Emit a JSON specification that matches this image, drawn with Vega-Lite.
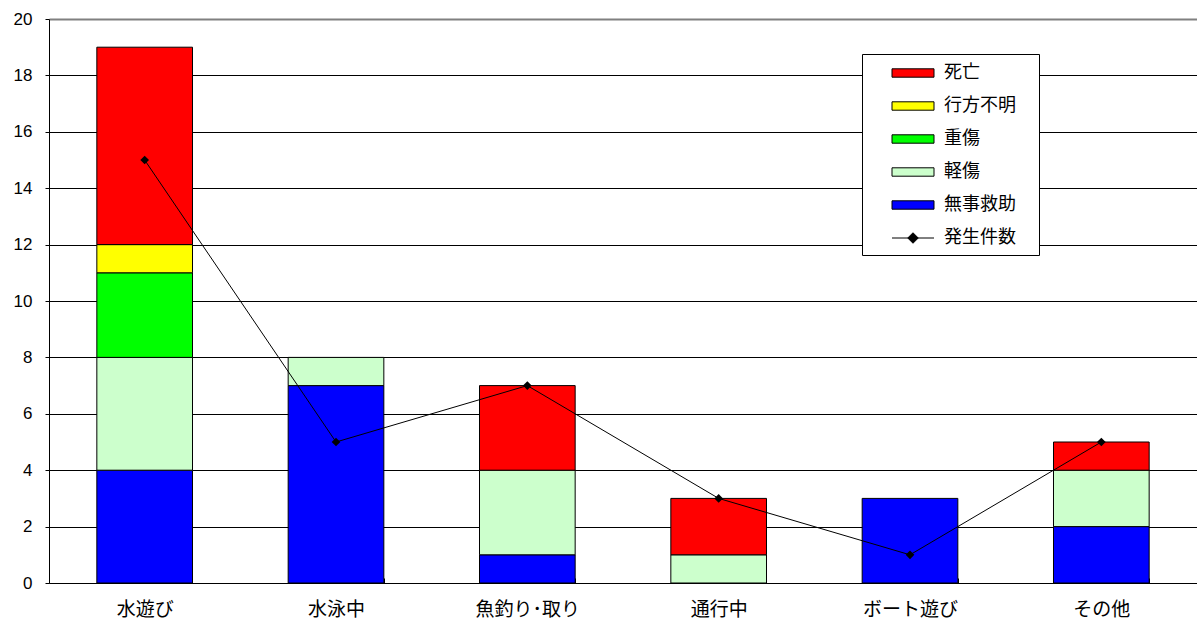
{
  "$schema": "https://vega.github.io/schema/vega-lite/v6.json",
  "width": 1148,
  "height": 564,
  "autosize": {"type": "none"},
  "padding": {"left": 49, "top": 19, "right": 0, "bottom": 38},
  "background": "white",
  "config": {"view": {"stroke": null}},
  "datasets": {
    "bars": [
      {"cat": "水遊び", "type": "無事救助", "value": 4},
      {"cat": "水遊び", "type": "軽傷", "value": 4},
      {"cat": "水遊び", "type": "重傷", "value": 3},
      {"cat": "水遊び", "type": "行方不明", "value": 1},
      {"cat": "水遊び", "type": "死亡", "value": 7},
      {"cat": "水泳中", "type": "無事救助", "value": 7},
      {"cat": "水泳中", "type": "軽傷", "value": 1},
      {"cat": "魚釣り･取り", "type": "無事救助", "value": 1},
      {"cat": "魚釣り･取り", "type": "軽傷", "value": 3},
      {"cat": "魚釣り･取り", "type": "死亡", "value": 3},
      {"cat": "通行中", "type": "軽傷", "value": 1},
      {"cat": "通行中", "type": "死亡", "value": 2},
      {"cat": "ボート遊び", "type": "無事救助", "value": 3},
      {"cat": "その他", "type": "無事救助", "value": 2},
      {"cat": "その他", "type": "軽傷", "value": 2},
      {"cat": "その他", "type": "死亡", "value": 1}
    ],
    "line": [
      {"cat": "水遊び", "count": 15},
      {"cat": "水泳中", "count": 5},
      {"cat": "魚釣り･取り", "count": 7},
      {"cat": "通行中", "count": 3},
      {"cat": "ボート遊び", "count": 1},
      {"cat": "その他", "count": 5}
    ]
  },
  "layer": [
    {
      "data": {"name": "bars"},
      "transform": [
        {"calculate": "indexof(['無事救助','軽傷','重傷','行方不明','死亡'], datum.type)", "as": "k"}
      ],
      "mark": {"type": "bar", "stroke": "black", "strokeWidth": 1},
      "encoding": {
        "x": {
          "field": "cat", "type": "nominal",
          "sort": ["水遊び", "水泳中", "魚釣り･取り", "通行中", "ボート遊び", "その他"],
          "scale": {"paddingInner": 0.5, "paddingOuter": 0.25},
          "axis": {
            "title": null, "labelAngle": 0, "tickBand": "extent", "tickSize": -5,
            "tickColor": "black", "domainColor": "black", "labelColor": "black",
            "labelFont": "Noto Sans CJK JP", "labelFontSize": 19, "labelPadding": 22
          }
        },
        "y": {
          "field": "value", "type": "quantitative", "stack": "zero",
          "scale": {"domain": [0, 20], "nice": false},
          "axis": {
            "title": null, "values": [0, 2, 4, 6, 8, 10, 12, 14, 16, 18, 20],
            "grid": true,
            "gridColor": {"condition": {"test": "datum.value === 20", "value": "#808080"}, "value": "black"},
            "gridWidth": {"condition": {"test": "datum.value === 20", "value": 2}, "value": 1},
            "domainColor": "black", "tickColor": "black", "tickSize": 4,
            "labelPadding": 13, "labelFont": "Liberation Sans", "labelFontSize": 17, "labelColor": "black"
          }
        },
        "fill": {
          "field": "type", "type": "nominal",
          "scale": {
            "domain": ["死亡", "行方不明", "重傷", "軽傷", "無事救助", "発生件数"],
            "range": ["#ff0000", "#ffff00", "#00ff00", "#ccffcc", "#0000ff", "#000000"]
          },
          "legend": {
            "title": " ", "titleOrient": "right", "titlePadding": 15, "titleFontSize": 6,
            "orient": "none", "legendX": 813, "legendY": 35,
            "strokeColor": "black", "fillColor": "white", "padding": 8,
            "symbolSize": 441, "symbolStrokeColor": "black", "symbolStrokeWidth": 1,
            "symbolOffset": 32, "symbolType": "M-2,-0.4H2V0.4H-2Z",
            "labelFont": "Noto Sans CJK JP", "labelFontSize": 18, "labelColor": "black",
            "labelOffset": 20, "rowPadding": 13,
            "encode": {
              "symbols": {
                "update": {
                  "shape": {"signal": "datum.value === '発生件数' ? 'M-2,0H2M0,-0.5L0.5,0L0,0.5L-0.5,0Z' : 'M-2,-0.4H2V0.4H-2Z'"},
                  "stroke": {"value": "black"},
                  "strokeWidth": {"value": 1}
                }
              }
            }
          }
        },
        "order": {"field": "k", "type": "quantitative"}
      }
    },
    {
      "data": {"name": "line"},
      "mark": {
        "type": "line", "color": "black", "strokeWidth": 1,
        "point": {"shape": "diamond", "filled": true, "color": "black", "size": 75}
      },
      "encoding": {
        "x": {"field": "cat", "type": "nominal", "sort": ["水遊び", "水泳中", "魚釣り･取り", "通行中", "ボート遊び", "その他"]},
        "y": {"field": "count", "type": "quantitative"}
      }
    }
  ]
}
